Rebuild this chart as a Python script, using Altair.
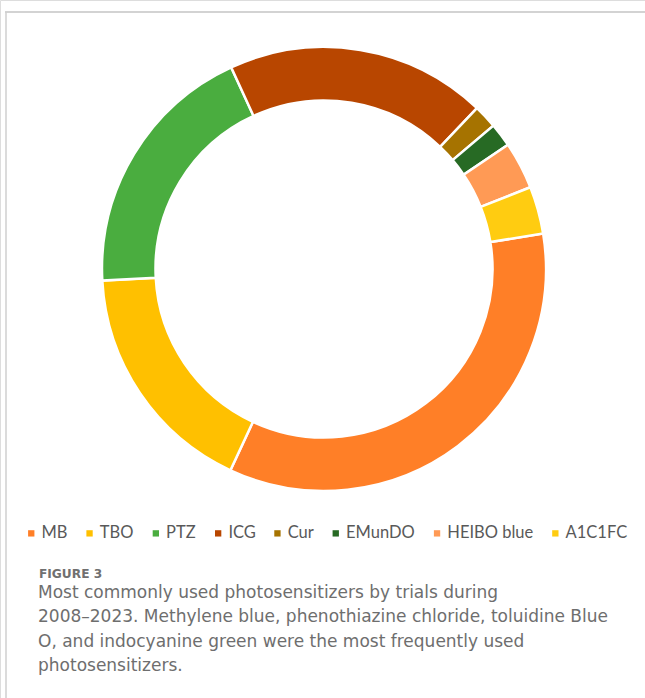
import math
import altair as alt
import pandas as pd

categories = ["MB", "TBO", "PTZ", "ICG", "Cur", "EMunDO", "HEIBO blue", "A1C1FC"]
counts = [20, 10, 11, 11, 1, 1, 2, 2]
colors = ["#FF7F27", "#FFC000", "#4AAD3F", "#B84600", "#A67300", "#276A24", "#FF9A55", "#FFCC11"]

caption_head = "FIGURE 3"
caption_lines = [
    "Most commonly used photosensitizers by trials during",
    "2008\u20132023. Methylene blue, phenothiazine chloride, toluidine Blue",
    "O, and indocyanine green were the most frequently used",
    "photosensitizers.",
]

df = pd.DataFrame({"name": categories, "n": counts, "order": list(range(len(categories)))})

start = math.radians(80.8)

arc = alt.Chart(df).mark_arc(
    x=324, y=269, radius=222, radius2=168.5, stroke="white", strokeWidth=2.5
).encode(
    theta=alt.Theta("n:Q", stack=True, scale=alt.Scale(range=[start, start + 2 * math.pi])),
    order=alt.Order("order:Q"),
    color=alt.Color(
        "name:N",
        scale=alt.Scale(domain=categories, range=colors),
        sort=categories,
        legend=alt.Legend(
            title=None,
            orient="none",
            direction="horizontal",
            legendX=23,
            legendY=525,
            symbolType="square",
            symbolSize=40,
            symbolStrokeWidth=0,
            labelFont="Lato",
            labelFontSize=16.5,
            labelColor="#595959",
            labelOffset=2,
            columnPadding=13.3,
            padding=0,
        ),
    ),
)

one = pd.DataFrame({"k": [0]})

top_line = alt.Chart(one).mark_rule(color="#d3d3d3", strokeWidth=2).encode(
    x=alt.value(5), x2=alt.value(645), y=alt.value(12)
)
left_line = alt.Chart(one).mark_rule(color="#cfcfcf", strokeWidth=1.5).encode(
    x=alt.value(6), y=alt.value(12), y2=alt.value(698)
)

layers = [top_line, left_line, arc]

layers.append(
    alt.Chart(one).mark_text(
        text=caption_head, font="DejaVu Sans", fontSize=12.2, fontWeight="bold",
        color="#707070", align="left", baseline="alphabetic"
    ).encode(x=alt.value(39), y=alt.value(578))
)
for i, line in enumerate(caption_lines):
    layers.append(
        alt.Chart(one).mark_text(
            text=line, font="DejaVu Sans", fontSize=17,
            color="#6e6e6e", align="left", baseline="alphabetic"
        ).encode(x=alt.value(38), y=alt.value(598 + 24.4 * i))
    )

chart = alt.layer(*layers).properties(
    width=645, height=698, padding=0, autosize=alt.AutoSizeParams(type="none")
).configure_view(stroke=None).configure(background="white")

chart.save("out.html", embed_options={"renderer": "svg", "actions": False})
